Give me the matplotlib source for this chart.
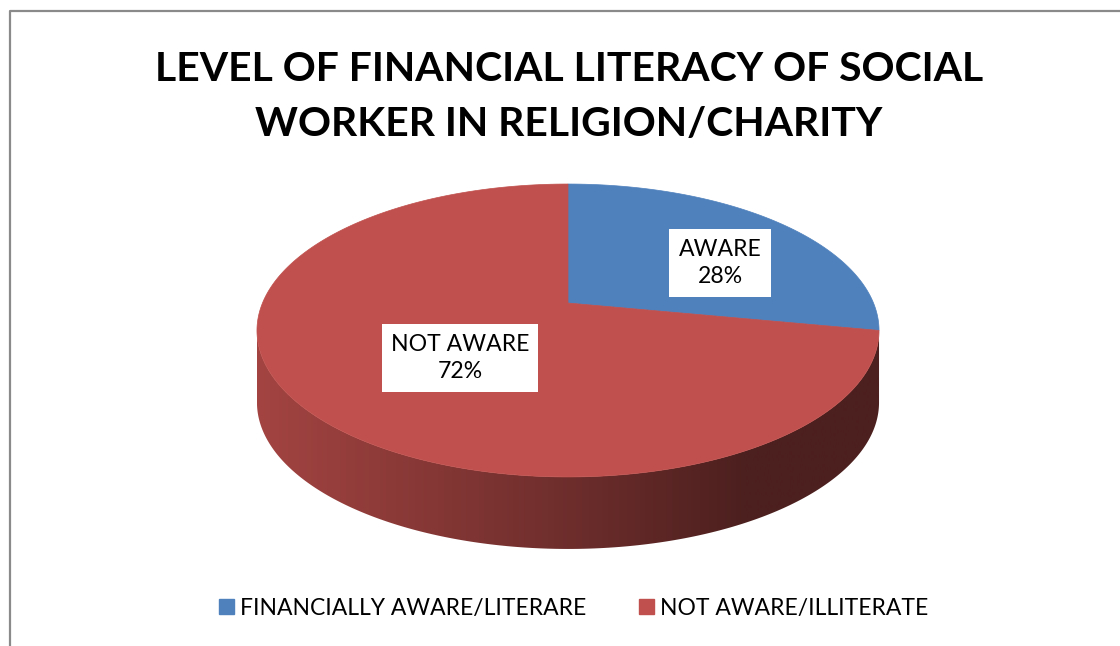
import numpy as np
import matplotlib
matplotlib.use("Agg")
import matplotlib.pyplot as plt
from matplotlib.patches import Polygon, Patch

# ---- data ----
categories = ["AWARE", "NOT AWARE"]
values = [28, 72]
legend_labels = ["FINANCIALLY AWARE/LITERARE", "NOT AWARE/ILLITERATE"]
title_lines = ["LEVEL OF FINANCIAL LITERACY OF SOCIAL", "WORKER IN RELIGION/CHARITY"]
colors = ["#4f81bd", "#c0504d"]

plt.rcParams["font.family"] = ["Lato", "DejaVu Sans"]

W, H = 1120, 646
fig = plt.figure(figsize=(W / 100, H / 100), dpi=100)
ax = fig.add_axes([0, 0, 1, 1])
ax.set_xlim(0, W)
ax.set_ylim(H, 0)
ax.axis("off")
renderer = fig.canvas.get_renderer()


def fit_size(text, width, **kw):
    t = ax.text(0, 0, text, fontsize=20, **kw)
    w = t.get_window_extent(renderer).width
    t.remove()
    return 20 * width / w


# chart frame
ax.plot([10, 10, W], [H, 10.5, 10.5], color="#8a8a8a", lw=1.6,
        solid_capstyle="butt", zorder=1)

# ---- 3-D pie geometry (perspective view of a tilted disc) ----
CX, VY = 568.0, 303.0        # centre of the disc on screen
A, B, K = 305.5, 141.3, 0.1877
DEPTH = 72.0


def proj(theta_deg, r=1.0, z=0.0):
    t = np.radians(theta_deg)
    u = r * np.sin(t)
    v = r * np.cos(t)
    s = 1.0 + K * v
    return CX + A * u / s, VY - B * v / s + z


total = float(sum(values))
edges = np.concatenate([[0.0], np.cumsum(values)]) / total * 360.0

# front half of the rim, between the two widest points
th_r = np.degrees(np.arccos(-K))
th_l = 360.0 - th_r
x_left, _ = proj(th_l)
x_right, _ = proj(th_r)


def shade(base, n=400):
    rgb = np.array(matplotlib.colors.to_rgb(base))
    xs = np.linspace(0, 1, n)
    f = np.interp(xs, [0.0, 0.5, 0.78, 1.0], [0.85, 0.57, 0.40, 0.40])
    return (rgb[None, :] * f[:, None])[None, :, :]


# side walls
for a0, a1, c in zip(edges[:-1], edges[1:], colors):
    lo, hi = max(a0, th_r), min(a1, th_l)
    if hi <= lo:
        continue
    t = np.linspace(lo, hi, 300)
    xt, yt = proj(t)
    xb, yb = proj(t[::-1], z=DEPTH)
    poly = Polygon(np.column_stack([np.r_[xt, xb], np.r_[yt, yb]]),
                   closed=True, fc="none", ec="none")
    ax.add_patch(poly)
    im = ax.imshow(shade(c), extent=(x_left, x_right, VY + 400, VY - 400),
                   aspect="auto", interpolation="bilinear", zorder=2)
    im.set_clip_path(poly)

# top faces
for a0, a1, c in zip(edges[:-1], edges[1:], colors):
    t = np.linspace(a0, a1, 400)
    xt, yt = proj(t)
    pts = np.column_stack([np.r_[CX, xt], np.r_[VY, yt]])
    ax.add_patch(Polygon(pts, closed=True, fc=c, ec=c, lw=0.5, zorder=3))
ax.set_xlim(0, W)
ax.set_ylim(H, 0)

# ---- data labels ----
label_pos = [(720, 263), (460, 358)]
lab_fs = fit_size("NOT AWARE", 138)
for name, val, (lx, ly) in zip(categories, values, label_pos):
    ax.text(lx, ly, f"{name}\n{val / total * 100:.0f}%", fontsize=lab_fs,
            ha="center", va="center", multialignment="center",
            linespacing=1.4, color="black", zorder=5,
            bbox=dict(boxstyle="square,pad=0.4", fc="white", ec="none"))

# ---- title ----
tfs = fit_size(title_lines[0], 830, fontweight="bold")
for line, base in zip(title_lines, [81, 136]):
    ax.text(569, base, line, fontsize=tfs, fontweight="bold",
            ha="center", va="baseline", color="black", zorder=5)

# ---- legend ----
lfs = fit_size(legend_labels[0], 345)
handles = [Patch(facecolor=c, edgecolor=c) for c in colors]
ax.legend(handles, legend_labels, ncol=2, loc="center",
          bbox_to_anchor=(574, 608), bbox_transform=ax.transData,
          frameon=False, fontsize=lfs, handlelength=0.62, handleheight=0.62,
          handletextpad=0.3, columnspacing=2.3, borderpad=0)

fig.savefig("out.png", dpi=100, facecolor="white")
